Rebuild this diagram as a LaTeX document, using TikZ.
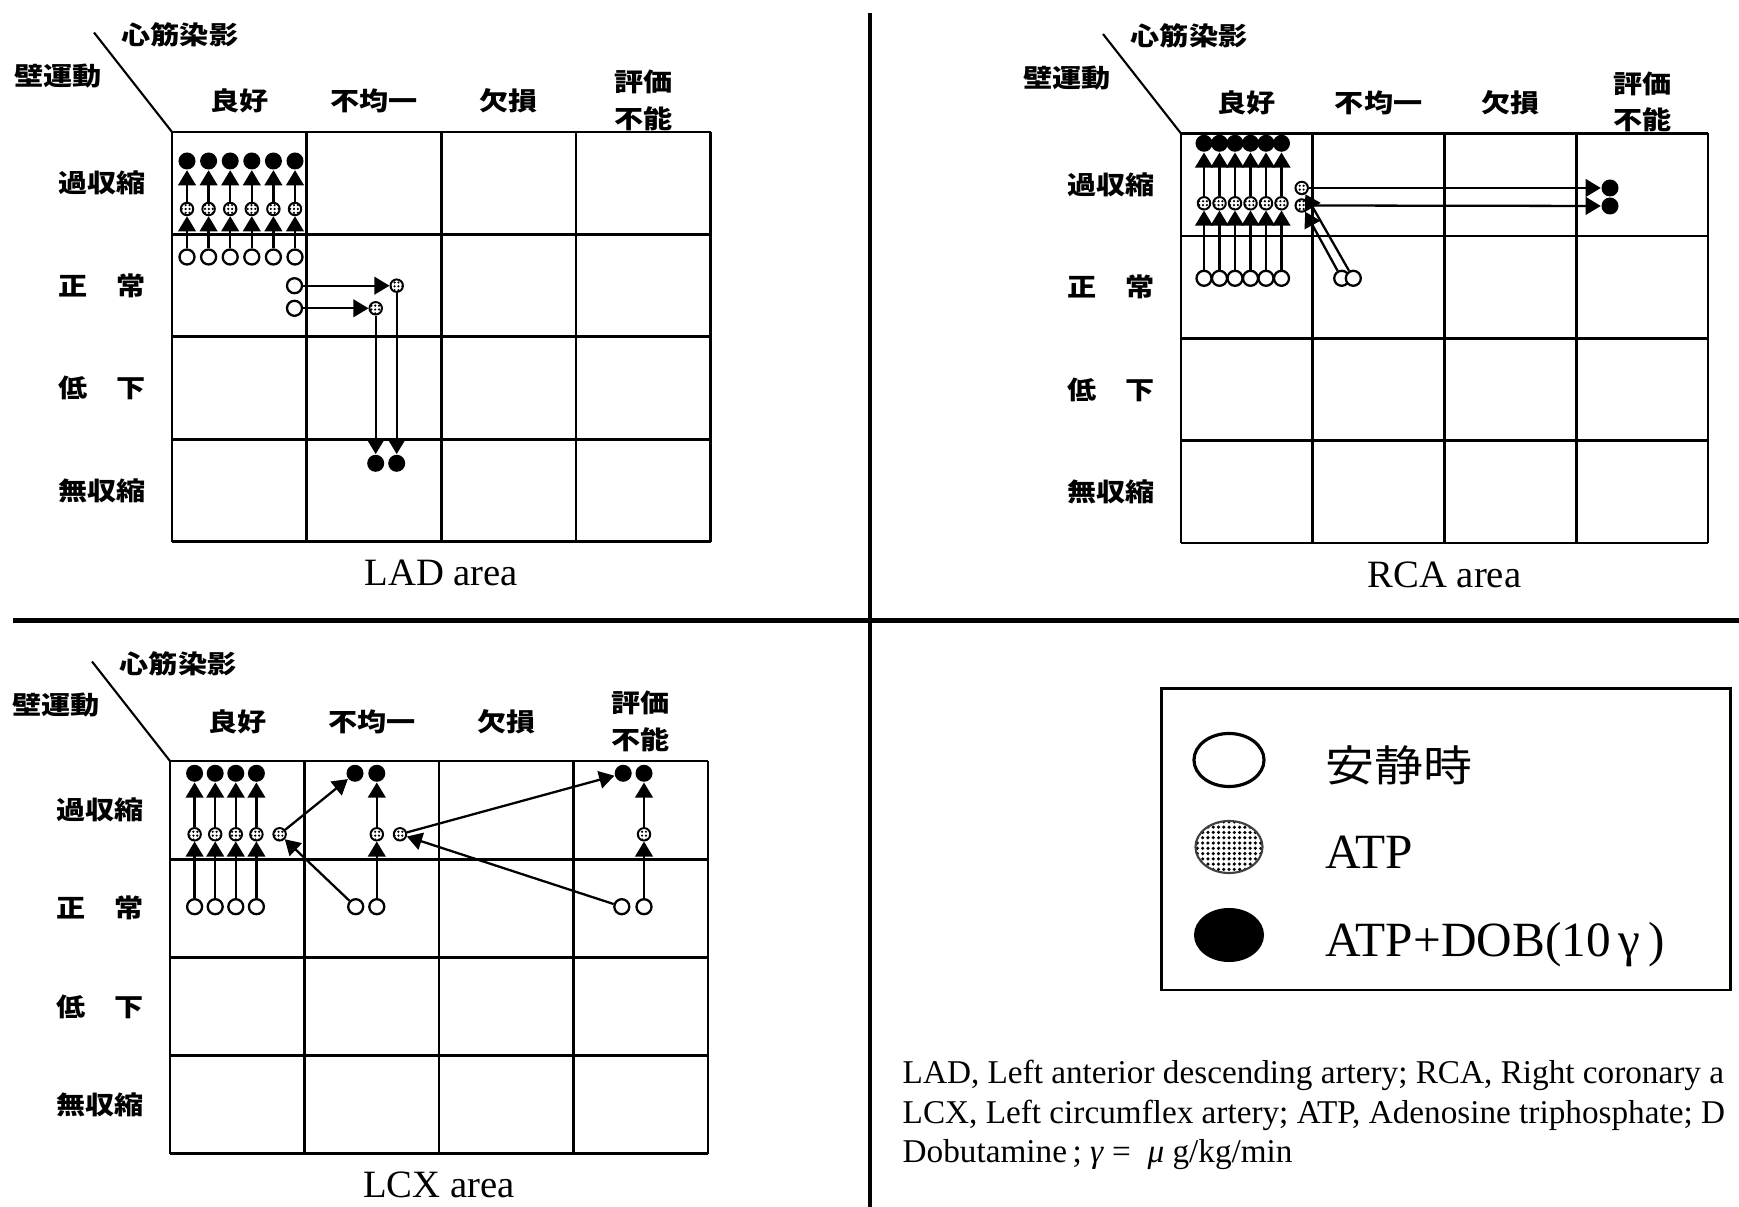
\documentclass[tikz,border=0pt]{standalone}
\usepackage{fontspec}
\setmainfont{Liberation Serif}
\newfontfamily\cjk{Noto Sans CJK JP}[FakeStretch=1.15]
\usetikzlibrary{arrows.meta, shapes.geometric, patterns.meta}

\begin{document}
\begin{tikzpicture}[x=0.01cm, y=-0.01cm,
    grade/.style={line width=0.75pt},
    divisor/.style={line width=1.3pt},
    rotulo/.style={font=\cjk\bfseries\fontsize{7.2pt}{9pt}\selectfont, inner sep=0pt},
    cabec/.style={font=\cjk\bfseries\fontsize{7.2pt}{10.3pt}\selectfont, inner sep=0pt, align=center},
    nomearea/.style={anchor=base, inner sep=0pt, font=\fontsize{11pt}{13pt}\selectfont},
    repouso/.style={circle, draw, line width=0.65pt, fill=white, inner sep=0pt, minimum size=0.15cm},
    atp/.style={circle, draw, line width=0.55pt, inner sep=0pt, minimum size=0.125cm, pattern={Dots[distance=1.1pt, radius=0.35pt]}},
    dob/.style={circle, fill=black, inner sep=0pt, minimum size=0.17cm},
    fluxo/.style={-{Triangle[length=4.3pt, width=5pt]}, line width=0.65pt},
    legenda/.style={anchor=base west, inner sep=0pt, font=\fontsize{14pt}{16pt}\selectfont},
    nota/.style={anchor=base west, inner sep=0pt, font=\fontsize{9.45pt}{11.4pt}\selectfont}]
    \useasboundingbox (0,0) rectangle (1739,1207);
    \fill[white] (0,0) rectangle (1739,1207);
    % Divisores
    \draw[divisor] (13,620.5) -- (1739,620.5);
    \draw[divisor] (870,13) -- (870,1207);
    % Tabelas
    \foreach \gx/\gy/\cw/\ch/\nome/\hs in {172/132/134.65/102.4/LAD/0, 1181/133.5/131.75/102.4/RCA/0, 170/761/134.5/98.2/LCX/-8}
    {
      \draw[line width=0.6pt] (\gx-78,\gy-99.5) -- (\gx,\gy);
      \node[cabec] (musc-\nome) at (\gx+8,\gy-97.5) {心筋染影};
      \node[rotulo] (parede-\nome) at (\gx-114,\gy-55.5) {壁運動};
      \foreach \i in {0,...,4}
      {
        \draw[grade] (\gx+\i*\cw,\gy) -- (\gx+\i*\cw,\gy+4*\ch);
        \draw[grade] (\gx,\gy+\i*\ch) -- (\gx+4*\cw,\gy+\i*\ch);
      }
      \foreach \c/\txt in {0/良好, 1/不均一, 2/欠損}
        \node[cabec] (col-\nome-\c) at (\gx+\c*\cw+0.5*\cw,\gy-31+\hs) {\txt};
      \node[cabec] (col-\nome-3) at (\gx+3.5*\cw,\gy-31.5+\hs) {評価\\不能};
      \foreach \r/\txt in {0/過収縮, 1/正　常, 2/低　下, 3/無収縮}
        \node[rotulo] (lin-\nome-\r) at (\gx-70,\gy+\r*\ch+0.5*\ch) {\txt};
      \node[nomearea] (area-\nome) at (\gx+2*\cw,\gy+4*\ch+44) {\nome\ area};
    }
    % LAD
    \foreach \i in {0,...,5}
    {
      \node[repouso] (lad-r\i) at (187+21.6*\i,257) {};
      \node[atp] (lad-a\i) at (187+21.6*\i,209) {};
      \node[dob] (lad-d\i) at (187+21.6*\i,161) {};
      \draw[fluxo] (lad-r\i) -- (lad-a\i);
      \draw[fluxo] (lad-a\i) -- (lad-d\i);
    }
    \node[repouso] (lad-r6) at (294.5,285.7) {};
    \node[repouso] (lad-r7) at (294.5,308.3) {};
    \node[atp] (lad-a6) at (396.7,285.7) {};
    \node[atp] (lad-a7) at (375.7,308.3) {};
    \node[dob] (lad-d6) at (396.7,463.3) {};
    \node[dob] (lad-d7) at (375.7,463.3) {};
    \draw[fluxo] (lad-r6) -- (lad-a6);
    \draw[fluxo] (lad-r7) -- (lad-a7);
    \draw[fluxo] (lad-a6) -- (lad-d6);
    \draw[fluxo] (lad-a7) -- (lad-d7);
    % RCA
    \foreach \i in {0,...,5}
    {
      \node[repouso] (rca-r\i) at (1204+15.5*\i,278.3) {};
      \node[atp] (rca-a\i) at (1204+15.5*\i,203.3) {};
      \node[dob] (rca-d\i) at (1204+15.5*\i,143.3) {};
      \draw[fluxo] (rca-r\i) -- (rca-a\i);
      \draw[fluxo] (rca-a\i) -- (rca-d\i);
    }
    \node[repouso] (rca-r6) at (1341.7,278.3) {};
    \node[repouso] (rca-r7) at (1353.3,278.3) {};
    \node[atp] (rca-a6) at (1301.7,188) {};
    \node[atp] (rca-a7) at (1301.7,205.5) {};
    \node[dob] (rca-d6) at (1610,188) {};
    \node[dob] (rca-d7) at (1610,206) {};
    \draw[fluxo] (rca-r6) -- (rca-a7);
    \draw[fluxo] (rca-r7) -- (rca-a6);
    \draw[fluxo] (rca-a6) -- (rca-d6);
    \draw[fluxo] (rca-a7) -- (rca-d7);
    % LCX
    \foreach \i in {0,...,3}
    {
      \node[repouso] (lcx-r\i) at (194.6+20.6*\i,906.7) {};
      \node[atp] (lcx-a\i) at (194.6+20.6*\i,834.3) {};
      \node[dob] (lcx-d\i) at (194.6+20.6*\i,773.3) {};
      \draw[fluxo] (lcx-r\i) -- (lcx-a\i);
      \draw[fluxo] (lcx-a\i) -- (lcx-d\i);
    }
    \foreach \i/\xr/\xa/\xd in {4/355.7/279.6/355, 5/376.8/376.8/376.8, 6/621.8/400/623.2, 7/644/644/644}
    {
      \node[repouso] (lcx-r\i) at (\xr,906.7) {};
      \node[atp] (lcx-a\i) at (\xa,834.3) {};
      \node[dob] (lcx-d\i) at (\xd,773.3) {};
      \draw[fluxo] (lcx-r\i) -- (lcx-a\i);
      \draw[fluxo] (lcx-a\i) -- (lcx-d\i);
    }
    % Legenda
    \draw[line width=0.85pt] (1161,688.5) rectangle (1730,990);
    \node[ellipse, draw, line width=0.9pt, inner sep=0pt, minimum width=0.7cm, minimum height=0.53cm] (leg-repouso) at (1229,760) {};
    \node[ellipse, draw=black!75, line width=0.6pt, inner sep=0pt, minimum width=0.67cm, minimum height=0.52cm, pattern={Dots[distance=1.5pt, radius=0.5pt]}] (leg-atp) at (1229,847) {};
    \node[ellipse, fill=black, inner sep=0pt, minimum width=0.7cm, minimum height=0.54cm] (leg-dob) at (1229,935) {};
    \node[anchor=west, inner sep=0pt, font=\cjk\fontsize{12.1pt}{14pt}\selectfont] (txt-repouso) at (1325,765) {安静時};
    \node[legenda] (txt-atp) at (1325,868.5) {ATP};
    \node[legenda] (txt-dob) at (1325,956.5) {ATP+DOB(10\,γ\,)};
    % Notas
    \node[nota] (nota-1) at (902,1084) {LAD, Left anterior descending artery; RCA, Right coronary a};
    \node[nota] (nota-2) at (902,1123.5) {LCX, Left circumflex artery; ATP, Adenosine triphosphate; D};
    \node[nota] (nota-3) at (902,1162.5) {Dobutamine\,; \textit{γ} = \ \textit{μ} g/kg/min};
\end{tikzpicture}
\end{document}
